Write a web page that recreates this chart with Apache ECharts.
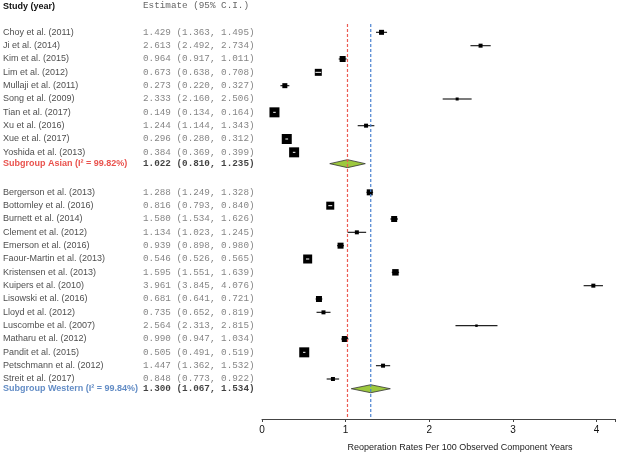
<!DOCTYPE html>
<html>
<head>
<meta charset="utf-8">
<script src="https://cdn.jsdelivr.net/npm/echarts@6/dist/echarts.min.js"></script>
<style>html,body{margin:0;padding:0;background:#fff}#c{width:618px;height:453px}</style>
</head>
<body>
<div id="c"></div>
<script>
// ---- Data ----
const asianStudies = ["Choy et al. (2011)","Ji et al. (2014)","Kim et al. (2015)","Lim et al. (2012)","Mullaji et al. (2011)","Song et al. (2009)","Tian et al. (2017)","Xu et al. (2016)","Xue et al. (2017)","Yoshida et al. (2013)"];
const asianEst = [1.429,2.613,0.964,0.673,0.273,2.333,0.149,1.244,0.296,0.384];
const asianLo  = [1.363,2.492,0.917,0.638,0.220,2.160,0.134,1.144,0.280,0.369];
const asianHi  = [1.495,2.734,1.011,0.708,0.327,2.506,0.164,1.343,0.312,0.399];
const asianWeight = [2.5,1.6,3.6,4.9,2.5,0.9,10.0,1.6,10.0,10.0];
const asianPooled = [1.022,0.810,1.235];
const asianI2 = "99.82%";

const westernStudies = ["Bergerson et al. (2013)","Bottomley et al. (2016)","Burnett et al. (2014)","Clement et al. (2012)","Emerson et al. (2016)","Faour-Martin et al. (2013)","Kristensen et al. (2013)","Kuipers et al. (2010)","Lisowski et al. (2016)","Lloyd et al. (2012)","Luscombe et al. (2007)","Matharu et al. (2012)","Pandit et al. (2015)","Petschmann et al. (2012)","Streit et al. (2017)"];
const westernEst = [1.288,0.816,1.580,1.134,0.939,0.546,1.595,3.961,0.681,0.735,2.564,0.990,0.505,1.447,0.848];
const westernLo  = [1.249,0.793,1.534,1.023,0.898,0.526,1.551,3.845,0.641,0.652,2.313,0.947,0.491,1.362,0.773];
const westernHi  = [1.328,0.840,1.626,1.245,0.980,0.565,1.639,4.076,0.721,0.819,2.815,1.034,0.519,1.532,0.922];
const westernWeight = [3.6,6.4,3.6,1.6,3.6,8.1,4.2,1.6,3.6,1.6,0.6,3.6,10.0,1.6,1.6];
const westernPooled = [1.300,1.067,1.534];
const westernI2 = "99.84%";

const xTicks = [0,1,2,3,4];
const headerStudy = "Study (year)";
const headerEst = "Estimate (95% C.I.)";
const xTitle = "Reoperation Rates Per 100 Observed Component Years";

// ---- Layout (rows) ----
const f3 = v => v.toFixed(3);
const ciText = (e,l,h) => f3(e) + " (" + f3(l) + ", " + f3(h) + ")";
const studyRows = [], nameItems = [], estItems = [];
const asianStart = 1;
asianStudies.forEach((n,i)=>{
  const r = asianStart + i;
  studyRows.push([asianEst[i], asianLo[i], asianHi[i], r, asianWeight[i]]);
  nameItems.push({value:[3,r], label:{formatter:n}});
  estItems.push({value:[143,r], label:{formatter:ciText(asianEst[i],asianLo[i],asianHi[i])}});
});
const asianSubRow = asianStart + asianStudies.length - 0.15;
const westernStart = asianStart + asianStudies.length + 2;
westernStudies.forEach((n,i)=>{
  const r = westernStart + i;
  studyRows.push([westernEst[i], westernLo[i], westernHi[i], r, westernWeight[i]]);
  nameItems.push({value:[3,r], label:{formatter:n}});
  estItems.push({value:[143,r], label:{formatter:ciText(westernEst[i],westernLo[i],westernHi[i])}});
});
const westernSubRow = westernStart + westernStudies.length - 0.27;
const subRows = [
  [asianPooled[0], asianPooled[1], asianPooled[2], asianSubRow],
  [westernPooled[0], westernPooled[1], westernPooled[2], westernSubRow]
];
const subNameItems = [
  {value:[3,asianSubRow], label:{formatter:"Subgroup Asian (I² = " + asianI2 + ")", color:"#e3261f"}},
  {value:[3,westernSubRow], label:{formatter:"Subgroup Western (I² = " + westernI2 + ")", color:"#3b6fb6"}}
];
const subEstItems = subRows.map(s => ({value:[143,s[3]], label:{formatter:ciText(s[0],s[1],s[2])}}));
const yMax = 30, lineTop = 0.38;

const chart = echarts.init(document.getElementById('c'), null, {renderer:'canvas'});
const textLabel = (extra) => Object.assign({show:true, position:'right', distance:0, fontFamily:'Liberation Sans, Arial', fontSize:9, color:'#1a1a1a'}, extra);
const refLine = (x, col) => ({
  type:'line', xAxisIndex:0, yAxisIndex:0, symbol:'none', silent:true, color:col,
  data:[[x, lineTop],[x, yMax]],
  itemStyle:{color:col},
  lineStyle:{color:col, width:1.2, type:[3,2], opacity:1}
});

chart.setOption({
  animation:false,
  backgroundColor:'#fff',
  grid:[
    {left:262, right:1.5, top:19, bottom:34},
    {left:0, right:0, top:19, bottom:34}
  ],
  xAxis:[
    {gridIndex:0, type:'value', min:0, max:4.22, interval:1, position:'bottom',
     splitLine:{show:false},
     axisLine:{show:true, onZero:false, lineStyle:{color:'#444', width:1}},
     axisTick:{show:true, length:3, lineStyle:{color:'#444'}},
     axisLabel:{color:'#111', fontSize:10, fontFamily:'Liberation Sans, Arial', margin:6,
       formatter: v => xTicks.indexOf(v) >= 0 ? String(v) : ''}},
    {gridIndex:1, type:'value', min:0, max:618, show:false}
  ],
  yAxis:[
    {gridIndex:0, type:'value', min:0, max:yMax, inverse:true, show:false},
    {gridIndex:1, type:'value', min:0, max:yMax, inverse:true, show:false}
  ],
  graphic:[
    {type:'text', left:3, top:2, style:{text:headerStudy, font:'bold 9px "Liberation Sans", Arial', fill:'#111'}},
    {type:'text', left:143, top:1, style:{text:headerEst, font:'9.3px "Liberation Mono", monospace', fill:'#666'}},
    {type:'text', x:460, y:448, style:{text:xTitle, font:'9px "Liberation Sans", Arial', fill:'#222', align:'center', verticalAlign:'middle'}}
  ],
  series:[
    refLine(asianPooled[0], '#ec5a52'),
    refLine(westernPooled[0], '#4a82d0'),
    {type:'custom', xAxisIndex:0, yAxisIndex:0, data:studyRows, clip:false,
     renderItem:(params, api)=>{
       const e=api.value(0), lo=api.value(1), hi=api.value(2), r=api.value(3), w=api.value(4);
       const p=api.coord([e,r]), pl=api.coord([lo,r]), ph=api.coord([hi,r]);
       const s=Math.sqrt(w*10);
       const ch=[
         {type:'line', shape:{x1:pl[0],y1:p[1],x2:ph[0],y2:p[1]}, style:{stroke:'#222', lineWidth:1.2}},
         {type:'rect', shape:{x:p[0]-s/2, y:p[1]-s/2, width:s, height:s}, style:{fill:'#000'}}
       ];
       if (ph[0]-pl[0] < s) ch.push({type:'line', shape:{x1:pl[0],y1:p[1],x2:ph[0],y2:p[1]}, style:{stroke:'#fff', lineWidth:1}});
       return {type:'group', children:ch};
     }},
    {type:'custom', xAxisIndex:0, yAxisIndex:0, data:subRows, clip:false,
     renderItem:(params, api)=>{
       const e=api.value(0), lo=api.value(1), hi=api.value(2), r=api.value(3);
       const p=api.coord([e,r]), pl=api.coord([lo,r]), ph=api.coord([hi,r]);
       return {type:'polygon', shape:{points:[[pl[0],p[1]],[p[0],p[1]-4],[ph[0],p[1]],[p[0],p[1]+4]]},
         style:{fill:'#9cc83e', stroke:'#333', lineWidth:0.8}};
     }},
    {type:'scatter', xAxisIndex:1, yAxisIndex:1, symbolSize:0, silent:true, clip:false,
     data:nameItems, label:textLabel({})},
    {type:'scatter', xAxisIndex:1, yAxisIndex:1, symbolSize:0, silent:true, clip:false,
     data:estItems, label:textLabel({fontFamily:'Liberation Mono, monospace', fontSize:9.3, color:'#666'})},
    {type:'scatter', xAxisIndex:1, yAxisIndex:1, symbolSize:0, silent:true, clip:false,
     data:subNameItems, label:textLabel({fontWeight:'bold'})},
    {type:'scatter', xAxisIndex:1, yAxisIndex:1, symbolSize:0, silent:true, clip:false,
     data:subEstItems, label:textLabel({fontFamily:'Liberation Mono, monospace', fontSize:9.3, color:'#111', fontWeight:'bold'})}
  ]
});
</script>
</body>
</html>
